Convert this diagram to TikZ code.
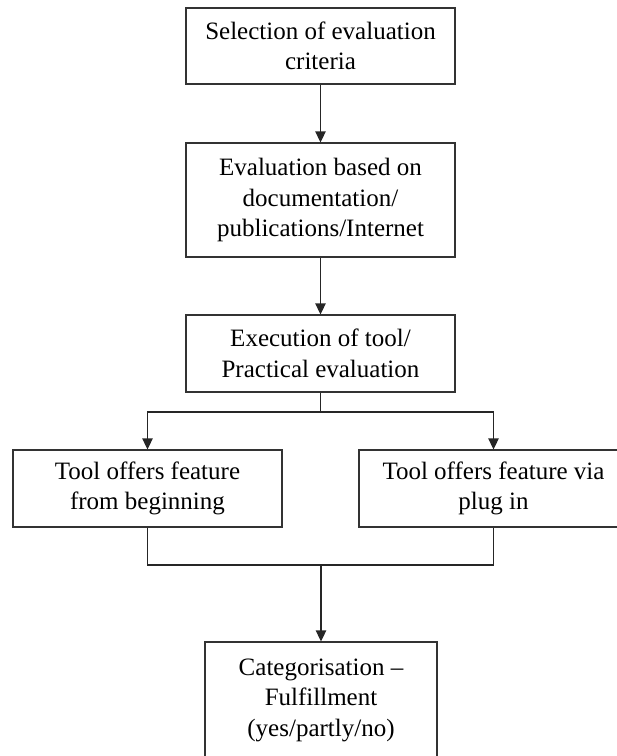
\documentclass[tikz,border=0pt]{standalone}
\usepackage{fontspec}
\setmainfont{Liberation Serif}
\usetikzlibrary{arrows.meta}
\tikzset{
  box/.style={draw=black!80, line width=1.3pt, minimum width=269pt, minimum height=77pt,
    inner sep=0pt, align=center, font=\fontsize{25}{30.5}\selectfont, text=black},
  link/.style={draw=black!85, line width=1.3pt},
  arr/.style={link, -{Triangle[width=10.5pt,length=11pt]}}
}
\begin{document}
\begin{tikzpicture}[x=1pt,y=-1pt]
\useasboundingbox (0,0) rectangle (617,756);
\node[box, minimum height=76pt] (b1) at (320.5,46) {Selection of evaluation\\criteria};
\node[box, minimum height=114pt] (b2) at (320.5,200) {Evaluation based on\\documentation/\\publications/Internet};
\node[box] (b3) at (320.5,353.5) {Execution of tool/\\Practical evaluation};
\node[box] (bl) at (147.5,488.5) {Tool offers feature\\from beginning};
\node[box] (br) at (493.5,488.5) {Tool offers feature via\\plug in};
\node[box, minimum width=232pt, minimum height=116pt] (b5) at (321,700) {Categorisation --\\Fulfillment\\(yes/partly/no)};
\coordinate (split) at (320.5,412);
\coordinate (merge) at (321,565);
\draw[arr] (b1.south) -- (b2.north);
\draw[arr] (b2.south) -- (b3.north);
\draw[link] (b3.south) -- (split);
\draw[arr] (split) -| (bl.north);
\draw[arr] (split) -| (br.north);
\draw[link] (bl.south) -- (bl.south |- merge) -- (br.south |- merge) -- (br.south);
\draw[arr] (merge) -- (b5.north);
\end{tikzpicture}
\end{document}
